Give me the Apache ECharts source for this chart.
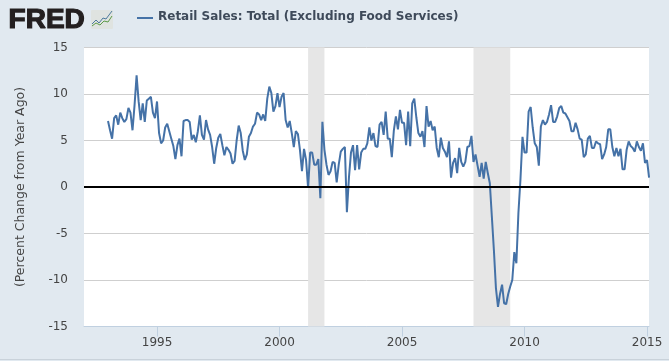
<!DOCTYPE html>
<html>
<head>
<meta charset="utf-8">
<style>html,body{margin:0;padding:0;background:#e1e9f0}#c{width:669px;height:361px}</style>
<script src="https://cdn.jsdelivr.net/npm/echarts@6/dist/echarts.min.js"></script>
</head>
<body>
<div id="c"></div>
<script>
const seriesName = 'Retail Sales: Total (Excluding Food Services)';
const yAxisTitle = '(Percent Change from Year Ago)';
const firstYear = 1993;
const yearTicks = [1995, 2000, 2005, 2010, 2015];
const yTicks = [-15, -10, -5, 0, 5, 10, 15];
const recessionStart = [2001.167, 2007.917];
const recessionEnd = [2001.833, 2009.417];
// Monthly values, January 1993 to February 2015
const retailSalesYoY = [
  7.1,6.1,5.2,7.4,7.7,6.7,8.0,7.4,7.0,7.3,8.5,8.0,
  6.1,8.8,12.0,9.2,7.2,9.0,7.0,9.3,9.5,9.7,8.0,7.4,
  9.2,5.8,4.7,5.0,6.4,6.8,6.0,5.2,4.4,3.0,4.5,5.2,
  3.3,7.1,7.2,7.2,7.0,5.1,5.6,4.8,6.0,7.7,5.6,5.1,
  7.2,6.2,5.6,4.3,2.5,4.2,5.3,5.7,4.5,3.4,4.3,4.0,
  3.6,2.5,2.8,5.0,6.6,5.8,3.9,2.9,3.5,5.4,5.8,6.5,
  6.8,8.0,7.8,7.2,7.8,7.1,9.5,10.8,10.1,8.1,8.7,10.1,
  8.6,9.7,10.1,7.2,6.4,7.1,5.8,4.3,6.0,5.7,4.0,1.7,
  4.1,2.9,-0.1,3.7,3.7,2.4,2.4,3.0,-1.2,7.0,4.0,2.4,
  1.3,1.7,2.7,2.6,0.5,2.4,3.8,4.1,4.3,-2.7,1.0,3.7,
  4.5,1.8,4.5,1.9,3.7,4.1,4.1,4.7,6.4,5.0,5.8,4.4,
  4.3,6.7,7.0,5.6,8.1,5.2,5.2,3.2,6.1,7.6,6.2,8.3,
  6.9,6.9,4.5,8.1,4.4,9.0,9.5,7.5,5.8,5.4,6.0,4.3,
  8.7,6.5,7.1,6.1,6.5,4.2,3.2,5.3,4.2,3.8,3.2,4.9,
  1.0,2.6,3.1,1.5,4.2,2.7,2.2,2.7,4.3,4.4,5.5,2.7,
  3.5,2.3,1.1,2.6,0.9,2.7,1.5,0.4,-3.2,-6.8,-10.9,-12.9,
  -11.5,-10.5,-12.5,-12.6,-11.5,-10.7,-10.0,-7.0,-8.2,-2.8,0.8,5.4,
  3.7,3.7,8.1,8.6,6.4,4.7,4.3,2.3,6.5,7.2,6.7,7.0,
  7.8,8.8,7.0,7.0,7.6,8.5,8.7,8.0,7.9,7.5,7.1,6.0,
  6.0,6.9,6.2,5.2,5.1,3.2,3.5,5.2,5.5,4.2,4.2,4.9,
  4.7,4.6,3.0,3.5,4.3,6.2,6.2,4.3,3.3,4.2,3.3,4.1,
  1.9,1.9,4.0,4.9,4.4,4.2,3.8,4.9,4.3,3.9,4.7,2.6,
  2.9,1.0
];

const points = retailSalesYoY.map((v, i) => [firstYear + i / 12, v]);
const txt = '#444';
const font = 'DejaVu Sans';
const chart = echarts.init(document.getElementById('c'), null, {renderer: 'canvas'});
chart.setOption({
  animation: false,
  backgroundColor: '#e1e9f0',
  grid: {left: 84, right: 20, top: 47.5, height: 279, containLabel: false, show: true, backgroundColor: '#fff', borderWidth: 0},
  xAxis: {
    type: 'value', min: 1992.02, max: 2015.08, splitLine: {show: false},
    axisLine: {show: true, onZero: false, lineStyle: {color: '#c0d0e0', width: 1}},
    axisTick: {show: true, length: 10, lineStyle: {color: '#c0d0e0'}, customValues: yearTicks},
    axisLabel: {color: txt, fontFamily: font, fontSize: 12, margin: 10, customValues: yearTicks,
      formatter: v => String(Math.round(v))}
  },
  yAxis: {
    type: 'value', min: -15, max: 15, interval: 5,
    name: yAxisTitle, nameLocation: 'middle', nameGap: 57, nameRotate: 90,
    nameTextStyle: {color: txt, fontFamily: font, fontSize: 12.5},
    axisLine: {show: false}, axisTick: {show: false},
    splitLine: {show: true, lineStyle: {color: '#cfcfcf', width: 1}},
    axisLabel: {color: txt, fontFamily: font, fontSize: 12, margin: 16}
  },
  series: [{
    name: seriesName, type: 'line', data: points, showSymbol: false, symbol: 'none',
    lineStyle: {color: '#4572a7', width: 2}, itemStyle: {color: '#4572a7'},
    z: 3,
    markArea: {silent: true, itemStyle: {color: '#e6e6e6'}, z: 1,
      data: recessionStart.map((s, i) => [{xAxis: s}, {xAxis: recessionEnd[i]}])},
    markLine: {silent: true, symbol: 'none', label: {show: false}, animation: false,
      lineStyle: {color: '#000', width: 2, type: 'solid'}, data: [{yAxis: 0}]}
  }],
  graphic: [
    {type: 'text', left: 8, top: 6, z: 10, style: {text: 'FRED', fontFamily: 'Liberation Sans', fontWeight: 900, fontSize: 28, fill: '#231f20', stroke: '#231f20', lineWidth: 1.2}},
    {type: 'rect', z: 9, shape: {x: 91, y: 10, width: 22, height: 19, r: 1}, style: {fill: '#dfe3e0'}},
    {type: 'polyline', z: 10, shape: {points: [[92,24],[96,20],[99,23],[103,18],[106,19],[112,11]]}, style: {stroke: '#4d7a9c', lineWidth: 1, fill: 'none'}},
    {type: 'polyline', z: 10, shape: {points: [[92,26],[96,23],[100,25],[104,21],[108,22],[112,16]]}, style: {stroke: '#5c9a48', lineWidth: 1, fill: 'none'}},
    {type: 'line', z: 10, shape: {x1: 137, y1: 18, x2: 153, y2: 18}, style: {stroke: '#4572a7', lineWidth: 2}},
    {type: 'text', left: 158, top: 11, z: 10, style: {text: seriesName, fontFamily: font, fontWeight: 'bold', fontSize: 12, fill: '#3e4a5a'}},
    {type: 'rect', z: 9, shape: {x: 0, y: 359, width: 669, height: 1}, style: {fill: '#c9d2da'}}
  ]
});
</script>
</body>
</html>
